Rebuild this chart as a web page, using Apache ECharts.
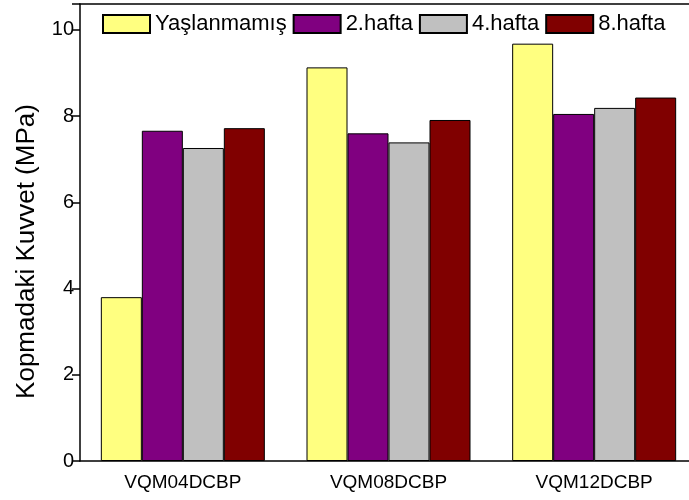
<!DOCTYPE html>
<html>
<head>
<meta charset="utf-8">
<script src="https://cdn.jsdelivr.net/npm/echarts@6/dist/echarts.min.js"></script>
<style>html,body{margin:0;padding:0;background:#fff}#c{width:689px;height:500px}</style>
</head>
<body>
<div id="c"></div>
<script>
const categories = ['VQM04DCBP', 'VQM08DCBP', 'VQM12DCBP'];
const seriesNames = ['Yaşlanmamış', '2.hafta', '4.hafta', '8.hafta'];
const yaslanmamis = [3.80, 9.13, 9.68];
const hafta2 = [7.66, 7.60, 8.05];
const hafta4 = [7.26, 7.39, 8.19];
const hafta8 = [7.72, 7.91, 8.43];
const colors = ['#FFFF80', '#800080', '#C0C0C0', '#800000'];
const yTicks = [0, 2, 4, 6, 8, 10];

const dataSets = [yaslanmamis, hafta2, hafta4, hafta8];
const font = 'Liberation Sans, Arial, sans-serif';
const chart = echarts.init(document.getElementById('c'));
chart.setOption({
  animation: false,
  backgroundColor: '#fff',
  grid: { left: 80, width: 617, top: 4, bottom: 39, show: false, containLabel: false, outerBoundsMode: 'none' },
  legend: {
    left: 102, top: 13, padding: 0,
    itemWidth: 47, itemHeight: 18, itemGap: 6,
    icon: 'rect',
    textStyle: { fontFamily: font, fontSize: 22, color: '#000' },
    data: seriesNames
  },
  xAxis: [{
    type: 'category', data: categories,
    axisLine: { lineStyle: { color: '#000', width: 1.5 } },
    axisTick: { alignWithLabel: true, length: 9, lineStyle: { color: '#000', width: 1.5 } },
    axisLabel: { fontFamily: font, fontSize: 19, color: '#000', margin: 12 },
    splitLine: { show: false }
  }, {
    type: 'value', position: 'top', min: 0, max: 1,
    axisLine: { show: true, lineStyle: { color: '#000', width: 1.5 } },
    axisTick: { show: false }, axisLabel: { show: false }, splitLine: { show: false }
  }],
  yAxis: {
    type: 'value', min: 0, max: 10.6, interval: 2,
    name: 'Kopmadaki Kuvvet (MPa)', nameLocation: 'middle', nameGap: 40,
    nameTextStyle: { fontFamily: font, fontSize: 26, color: '#000', padding: [0, 38, 0, 0] },
    axisLine: { show: true, lineStyle: { color: '#000', width: 1.5 } },
    axisTick: { show: true, length: 8, lineStyle: { color: '#000', width: 1.5 } },
    axisLabel: { fontFamily: font, fontSize: 20, color: '#000', margin: 6,
      formatter: v => yTicks.includes(v) ? String(v) : '' },
    splitLine: { show: false }
  },
  series: seriesNames.map((n, i) => ({
    name: n, type: 'bar', data: dataSets[i], xAxisIndex: 0,
    barWidth: 41, barGap: '0%',
    itemStyle: { color: colors[i], borderColor: '#000', borderWidth: 1 }
  }))
});
</script>
</body>
</html>
